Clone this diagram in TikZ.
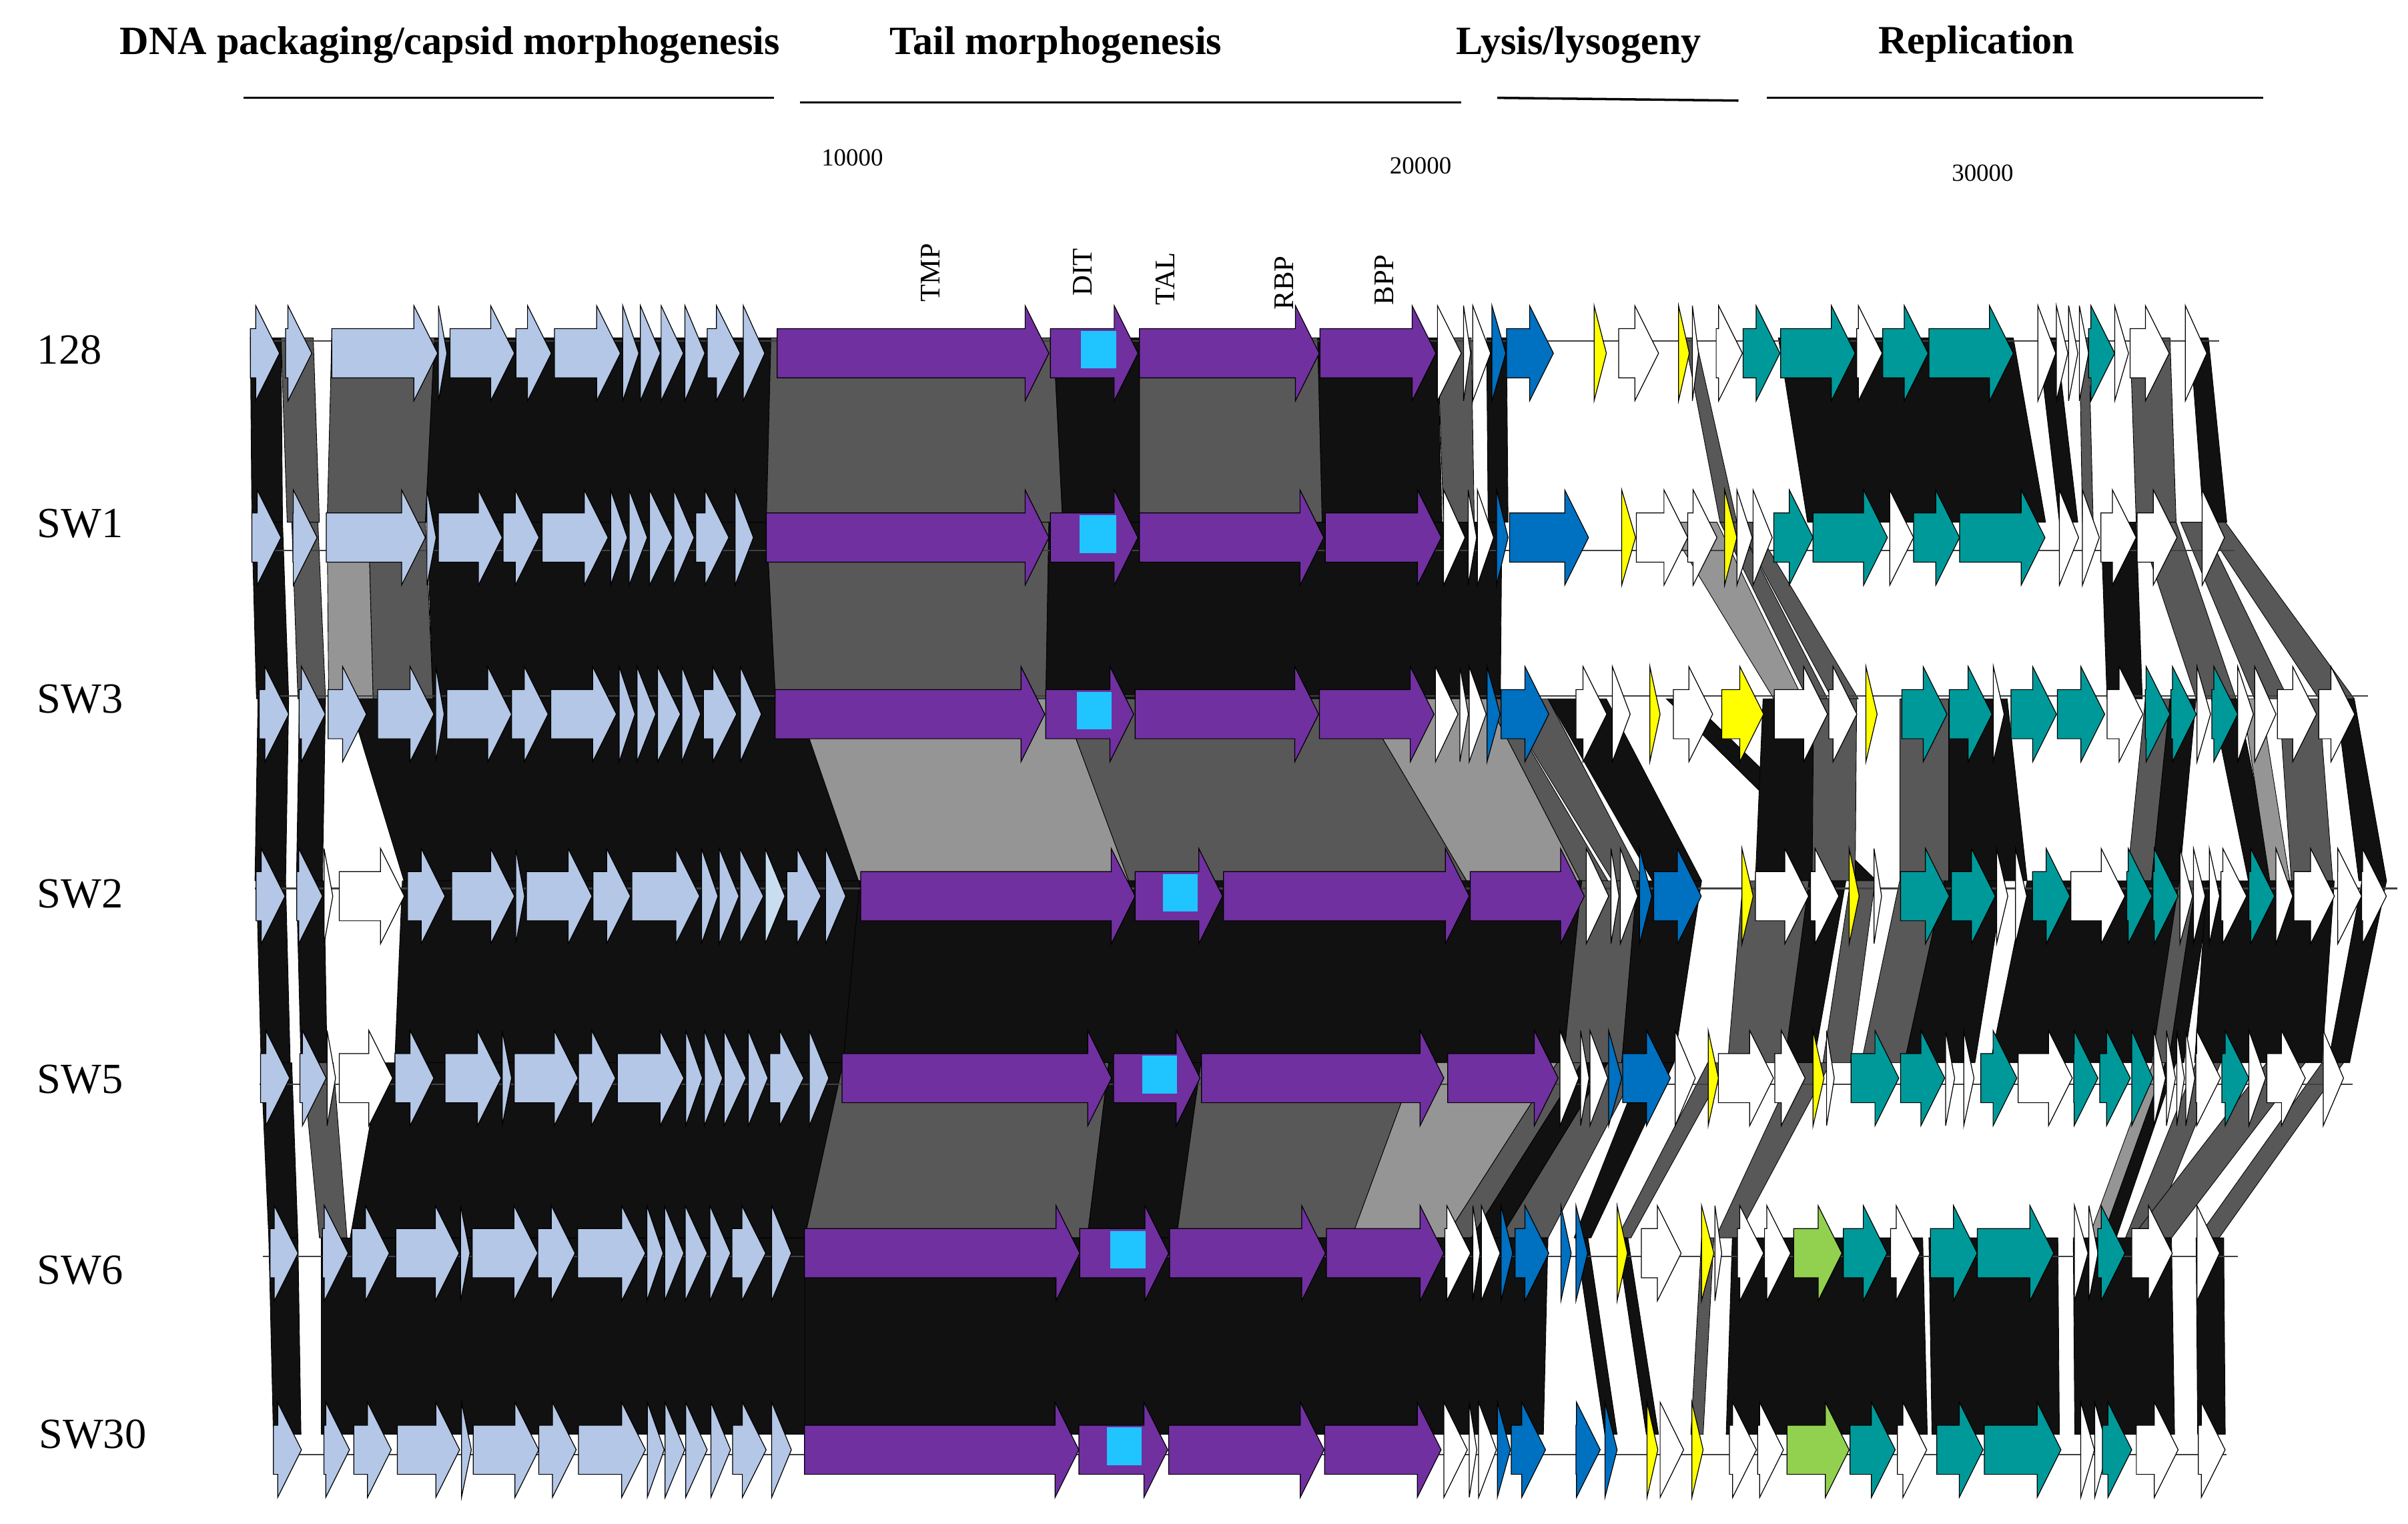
\documentclass[tikz,border=0pt]{standalone}
\usepackage{fontspec}
\setmainfont{Liberation Serif}
\usepackage{tikz}

\definecolor{lb}{HTML}{B4C7E7}
\definecolor{lbb}{HTML}{C9DDF1}
\definecolor{pp}{HTML}{7030A0}
\definecolor{cy}{HTML}{20C4FF}
\definecolor{bl}{HTML}{0070C0}
\definecolor{yl}{HTML}{FFFF00}
\definecolor{tl}{HTML}{009999}
\definecolor{gr}{HTML}{92D050}
\definecolor{wh}{HTML}{FFFFFF}
\definecolor{hk}{HTML}{111111}
\definecolor{hd}{HTML}{585858}
\definecolor{hl}{HTML}{959595}

\tikzset{
	gene/.style={draw=black, line width=0.35pt},
	band/.style={draw=black, line width=0.25pt},
	genome/.style={draw=black!75, line width=0.6pt},
	hline/.style={line width=1pt},
	head/.style={font=\fontsize{17.1pt}{20pt}\selectfont\bfseries, inner sep=0pt, anchor=base},
	rowlab/.style={font=\fontsize{18.3pt}{22pt}\selectfont, inner sep=0pt, anchor=west},
	tick/.style={font=\fontsize{10.5pt}{12pt}\selectfont, inner sep=0pt},
	glab/.style={font=\fontsize{12.1pt}{14pt}\selectfont, inner sep=0pt, rotate=90, anchor=west},
	ditbox/.style={fill=cy, draw=none}
}

% one genome: #1 = y of the row, #2 = start/end/colour
\newcommand{\generow}[2]{
	\foreach \xa/\xb/\col in {#2}{
		\pgfmathsetmacro{\headlen}{min(15.5,\xb-\xa)}
		\filldraw[gene, fill=\col] (\xa,{#1-16}) -- ({\xb-\headlen},{#1-16}) -- ({\xb-\headlen},{#1-31}) -- (\xb,#1) -- ({\xb-\headlen},{#1+31}) -- ({\xb-\headlen},{#1+16}) -- (\xa,{#1+16}) -- cycle;
	}
}
% blast hits between two genomes: #1 = top y, #2 = bottom y
\newcommand{\bandrow}[3]{
	\foreach \xa/\xb/\xc/\xd/\shd in {#3}{
		\filldraw[band, fill=\shd] (\xa,#1) -- (\xb,#1) -- (\xd,#2) -- (\xc,#2) -- cycle;
	}
}

\begin{document}
\begin{tikzpicture}[x=0.023cm, y=-0.023cm]
	\useasboundingbox (0,0) rectangle (1568,992);

	% comparisons
	\bandrow{220}{340}{163/183/164/184/hk, 183/204/187/208/hd, 216/283/213/277/hd, 283/502/277/499/hk, 502/686/499/692/hd, 686/742/692/742/hk, 742/858/742/861/hd, 858/936/861/939/hk, 936/958/940/960/hd, 968/981/969/982/hk, 1097/1104/1120/1131/hd, 1158/1311/1177/1332/hk, 1327/1339/1341/1353/hk, 1354/1360/1356/1363/hd, 1387/1413/1391/1417/hd, 1426/1438/1435/1450/hk}
	\bandrow{340}{455}{164/184/167/188/hk, 190/207/194/212/hd, 213/240/214/243/hl, 240/277/243/282/hd, 278/499/282/505/hk, 499/683/505/681/hd, 683/978/681/977/hk, 1085/1118/1155/1174/hl, 1120/1131/1177/1190/hd, 1131/1141/1193/1210/hd, 1368/1391/1372/1395/hk, 1392/1417/1430/1456/hd, 1420/1434/1468/1490/hd, 1434/1449/1510/1533/hd}
	\bandrow{455}{573.5}{168/188/166/186/hk, 195/212/193/210/hk, 227/518/263/559/hk, 518/691/559/735/hl, 691/885/735/955/hd, 885/968/955/1029/hl, 968/977/1029/1047/hd, 977/1008/1050/1070/hd, 1008/1046/1076/1108/hk, 1085/1100/1205/1222/hk, 1148/1182/1143/1180/hk, 1181/1209/1180/1208/hd, 1237/1269/1237/1269/hd, 1269/1307/1269/1320/hk, 1397/1413/1385/1401/hd, 1413/1430/1401/1419/hk, 1440/1457/1464/1481/hk, 1460/1472/1478/1491/hl, 1484/1510/1492/1519/hd, 1521/1533/1536/1554/hk}
	\bandrow{573.5}{692}{167/186/170/189/hk, 193/211/196/213/hk, 262/560/257/549/hk, 560/1030/549/1018/hk, 1030/1066/1018/1056/hd, 1066/1108/1056/1090/hk, 1135/1178/1125/1163/hd, 1178/1202/1162/1181/hk, 1205/1221/1187/1205/hd, 1237/1266/1212/1240/hd, 1266/1305/1240/1286/hk, 1320/1419/1296/1402/hk, 1419/1430/1401/1412/hd, 1430/1440/1412/1422/hk, 1437/1520/1429/1512/hk, 1538/1554/1516/1530/hk}
	\bandrow{692}{806}{170/190/175/194/hk, 197/217/208/226/hd, 248/549/228/524/hk, 549/722/524/708/hd, 722/782/708/766/hk, 782/922/766/880/hd, 922/1014/880/941/hl, 1014/1030/941/958/hd, 1030/1047/958/977/hk, 1047/1068/977/1008/hd, 1070/1090/1025/1036/hk, 1112/1125/1053/1062/hd, 1170/1192/1117/1131/hd, 1402/1410/1360/1369/hl, 1410/1417/1369/1378/hk, 1430/1446/1384/1400/hd, 1476/1501/1388/1414/hd, 1512/1526/1431/1445/hd}
	\bandrow{806}{934}{175/194/178/196/hk, 209/524/209/524/hk, 524/1008/524/1005/hk, 1026/1034/1045/1053/hk, 1053/1060/1072/1080/hk, 1108/1116/1101/1109/hd, 1128/1252/1124/1255/hk, 1256/1340/1258/1341/hk, 1350/1414/1351/1416/hk, 1430/1448/1431/1449/hk}

	% genome lines
	\draw[genome] (163,222) -- (1445,222);
	\draw[genome] (164,358.6) -- (1455,358.6);
	\draw[genome] (168,453) -- (1542,453);
	\draw[genome] (166,578.5) -- (1561,578.5);
	\draw[genome] (169,706) -- (1532,706);
	\draw[genome] (171,818) -- (1457,818);
	\draw[genome] (178,947) -- (1450,947);

	% genes
	\generow{230}{163/182/lb, 186/203/lb, 216/285/lb, 285.5/291/lb, 293/335/lb, 336/359/lb, 361/404/lb, 405.5/416/lb, 417/430/lb, 430.5/445/lb, 446/459/lb, 460.5/482/lb, 484/498/lb, 506/683/pp, 684/741/pp, 742/859/pp, 859.5/935/pp, 936/951.5/wh, 953/957.6/wh, 959/970.6/wh, 971.5/980.5/bl, 981/1011.5/bl, 1038/1046/yl, 1054/1080/wh, 1093/1100/yl, 1102/1106/wh, 1117.5/1134.6/wh, 1135/1159/tl, 1159.5/1208/tl, 1209/1225.6/wh, 1226/1255.5/tl, 1256/1311/tl, 1327/1338.6/wh, 1339/1346.5/wh, 1347/1353/wh, 1354/1360/wh, 1360/1377/tl, 1377/1386/wh, 1387/1412.5/wh, 1423/1437/wh}
	\generow{350}{164/183/lb, 190.7/206.5/lb, 212.5/277/lb, 278/284/lb, 285.5/327/lb, 327.6/351/lb, 353/396/lb, 397.6/408.5/lb, 409.7/421.5/lb, 423/438/lb, 438.8/452/lb, 453/474.6/lb, 478.7/490.6/lb, 499/683/pp, 684/741/pp, 742/862/pp, 863/938.5/pp, 940/954/wh, 956/961.5/wh, 962/972.6/wh, 974.5/982/bl, 983/1034.4/bl, 1056/1065/yl, 1065.5/1099/wh, 1099/1118/wh, 1123/1131/yl, 1131/1141/wh, 1141.5/1154/wh, 1155/1180.6/tl, 1180.6/1229/tl, 1230.5/1246/wh, 1246/1276/tl, 1276/1331.6/tl, 1341/1353.5/wh, 1356/1367/wh, 1368/1391/wh, 1391.6/1417.6/wh, 1434/1448.5/wh}
	\generow{465}{168.8/188/lb, 194.7/211.8/lb, 213.6/238.6/lb, 245.9/282.5/lb, 283.7/289.2/lb, 291/333.1/lb, 333.1/356.9/lb, 358.7/401.4/lb, 403.2/413.5/lb, 414.8/427/lb, 428.2/443.1/lb, 444/456.2/lb, 458/479.7/lb, 482.1/495.8/lb, 504.7/680.3/pp, 680.9/738.2/pp, 739.1/858.6/pp, 859.2/933.8/pp, 934.7/949.4/wh, 950.6/956.1/wh, 956.7/967.7/wh, 968.3/976.8/bl, 977.4/1008.5/bl, 1026.2/1046.3/wh, 1049.9/1061.5/wh, 1074.3/1081/yl, 1089.6/1115.2/wh, 1121.1/1148.4/yl, 1155.4/1190/wh, 1190.9/1209.1/wh, 1215/1222.3/yl, 1238.4/1267.8/tl, 1269.3/1297.1/tl, 1298/1305/wh, 1309.5/1339.1/tl, 1339.7/1370.5/tl, 1372/1395.4/wh, 1396.9/1413/tl, 1413.6/1430.1/tl, 1430.6/1439.4/wh, 1440.3/1457.1/tl, 1457.1/1467.3/wh, 1468.2/1482/wh, 1482.9/1508.4/wh, 1509.9/1533.3/wh}
	\generow{583.5}{166.7/185.6/lb, 193.2/210/lb, 211/216.7/wh, 220.9/263.3/wh, 265.4/289.8/lb, 294.1/335/lb, 335.8/341.6/lb, 342.8/385.5/lb, 386.1/410.5/lb, 411.4/455.6/lb, 456.8/467.5/lb, 468.4/481.2/lb, 481.8/497.1/lb, 498.3/511.1/lbb, 512.3/534.6/lb, 537.6/550.7/lb, 560.5/739.1/pp, 739.1/796.1/pp, 796.7/956.7/pp, 957.3/1031.7/pp, 1032.9/1047.5/wh, 1049/1054.2/wh, 1055.1/1066.4/wh, 1067.6/1075.6/bl, 1076.8/1107.8/bl, 1134.3/1141.6/yl, 1143.1/1177.7/wh, 1178.9/1197.4/wh, 1204.1/1210.6/yl, 1220.3/1225.2/wh, 1237.6/1269.3/tl, 1270.7/1299.2/tl, 1300.1/1307.4/wh, 1312.4/1319.7/wh, 1323.5/1347.9/tl, 1348.5/1383.7/wh, 1384.9/1401.3/tl, 1401.9/1418.3/tl, 1419.5/1427.7/wh, 1428.3/1435.9/wh, 1438.6/1445.3/wh, 1446.2/1462.9/wh, 1464.4/1481.1/tl, 1482/1492.9/wh, 1493.7/1520.1/wh, 1522.2/1537.8/wh, 1537.8/1553.9/wh}
	\generow{702}{169.7/188.6/lb, 195.3/212.4/lb, 213/218.5/wh, 220.9/255.7/wh, 257.2/282.5/lb, 289.8/326.4/lb, 327/333.1/lb, 334.9/376.4/lb, 376.7/400.8/lb, 402/445.3/lb, 446.5/457.4/lb, 458.7/470.5/lb, 471.5/485.8/lb, 487.3/500.1/lb, 501.3/523.3/lb, 527/539.7/lb, 548.3/723.8/pp, 725.1/781.4/pp, 782.4/940.2/pp, 942.7/1014.6/pp, 1015.8/1028/wh, 1029.2/1034.7/wh, 1035.3/1046.9/wh, 1047.5/1056/bl, 1056.6/1087.7/bl, 1090.8/1103.9/wh, 1112.3/1119/yl, 1119/1154.8/wh, 1155.7/1175.4/wh, 1180.6/1187.7/yl, 1189.4/1194.4/wh, 1205.3/1236.4/tl, 1237.6/1266.3/tl, 1266.9/1272.8/wh, 1278.7/1285.4/wh, 1289.8/1313.3/tl, 1314.1/1349.4/wh, 1350.3/1366.1/tl, 1367.3/1387.2/tl, 1388.1/1401.9/tl, 1402.5/1410.1/wh, 1410.7/1416.6/wh, 1417.4/1422.4/wh, 1423.3/1429.2/wh, 1429.8/1445.9/wh, 1446.8/1464.4/tl, 1464.4/1475.3/wh, 1476.1/1501.1/wh, 1512.8/1526/wh}
	\generow{816}{175.8/194.1/lb, 210/226.7/lb, 229.2/253.5/lb, 257.8/299/lb, 299.9/306/lb, 307.5/350.2/lb, 350.2/374.5/lb, 376.1/420.3/lb, 421.2/431.8/lb, 432.8/445.3/lb, 446.2/460.5/lb, 462.3/475.7/lb, 476.6/498.6/lb, 502.5/515.3/lb, 523.9/703.1/pp, 703.1/761/pp, 761.6/863.1/pp, 863.7/940.2/pp, 940.8/957.6/wh, 959.1/963.7/wh, 964.6/976.8/wh, 977.4/985/bl, 986.6/1008.5/bl, 1016.4/1023.1/bl, 1026.2/1033.8/bl, 1053/1059.7/yl, 1068.8/1094.7/wh, 1108/1116/yl, 1116.7/1121.1/wh, 1131.3/1148.4/wh, 1149/1166/wh, 1168/1199.4/gr, 1200.3/1228.8/tl, 1231.1/1250.2/wh, 1257/1287.5/tl, 1287.5/1337.3/tl, 1350.8/1359.6/wh, 1360.2/1366.1/wh, 1366/1383.7/tl, 1388.1/1414.5/wh, 1430.6/1445.3/wh}
	\generow{944}{178/196.3/lb, 210.9/227.6/lb, 230.4/254.8/lb, 258.7/299.3/lb, 300.5/306.9/lb, 308.1/350.8/lb, 350.8/375.2/lb, 376.7/420.3/lb, 421.5/432.5/lb, 433.1/445.9/lb, 446.5/460.5/lb, 462.9/475.7/lb, 477/498.9/lb, 502.5/515.3/lb, 523.9/702.5/pp, 702.5/760.4/pp, 761/862.2/pp, 862.5/938.4/pp, 940.2/955.5/wh, 956.7/961.6/wh, 962.8/974.4/wh, 975/983.5/bl, 984.1/1006.4/bl, 1026.2/1042/bl, 1045.1/1053/bl, 1072.5/1079.5/yl, 1081/1096.3/wh, 1101.7/1109/yl, 1126.1/1143.7/wh, 1144.5/1161.3/wh, 1163.6/1204.1/gr, 1204.7/1234.1/tl, 1235.5/1254.6/wh, 1261.1/1291.3/tl, 1292.1/1342/tl, 1354.9/1363.8/wh, 1364/1372.6/wh, 1369/1388.1/tl, 1391.1/1418.3/wh, 1431.5/1448.9/wh}

	% DIT domains
	\foreach \xa/\xb/\yc in {704/727/230, 703/727/350, 701.3/723.8/465, 757.4/780/583.5, 744/766.5/702, 722.9/745.8/816, 720.8/743.3/944}
		\fill[ditbox] (\xa,{\yc-14.5}) rectangle (\xb,{\yc+10});

	% modules
	\node[head] (hDNA) at (293,35.5) {DNA packaging/capsid morphogenesis};
	\node[head] (hTail) at (687.5,35.5) {Tail morphogenesis};
	\node[head] (hLys) at (1028,35.5) {Lysis/lysogeny};
	\node[head] (hRep) at (1287,34.8) {Replication};
	\draw[hline] (158.6,63.7) -- (504,63.7);
	\draw[hline] (521,66.6) -- (951.5,66.6);
	\draw[hline] (975,63.7) -- (1132,65.5);
	\draw[hline] (1150.5,63.7) -- (1473.7,63.7);

	% scale
	\node[tick] (k10) at (555,102.5) {10000};
	\node[tick] (k20) at (925,108) {20000};
	\node[tick] (k30) at (1291,112.5) {30000};

	% tail genes
	\node[glab] (gTMP) at (606,197) {TMP};
	\node[glab] (gDIT) at (705,193) {DIT};
	\node[glab] (gTAL) at (758.6,199) {TAL};
	\node[glab] (gRBP) at (836,202) {RBP};
	\node[glab] (gBPP) at (901.5,199) {BPP};

	% phages
	\node[rowlab] (p128) at (24,228) {128};
	\node[rowlab] (pSW1) at (24,341) {SW1};
	\node[rowlab] (pSW3) at (24,455) {SW3};
	\node[rowlab] (pSW2) at (24,582) {SW2};
	\node[rowlab] (pSW5) at (24,703) {SW5};
	\node[rowlab] (pSW6) at (24,827) {SW6};
	\node[rowlab] (pSW30) at (25,934) {SW30};
\end{tikzpicture}
\end{document}
